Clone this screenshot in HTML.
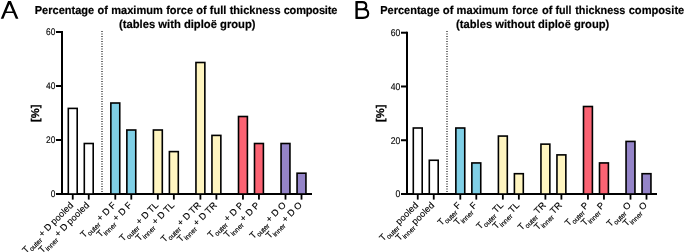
<!DOCTYPE html>
<html><head><meta charset="utf-8"><style>
html,body{margin:0;padding:0;background:#fff;}
svg{display:block;will-change:transform;}
text{font-family:"Liberation Sans",sans-serif;fill:#000;text-rendering:geometricPrecision;}
.tt{font-size:11.5px;font-kerning:none;font-weight:bold;stroke:#000;stroke-width:0.2px;}
.tk{font-size:9.5px;fill:#000;stroke:#000;stroke-width:0.12px;}
.lb{font-size:9.2px;stroke:#000;stroke-width:0.15px;}
.sb{font-size:6.8px;}
.yl{font-size:11.2px;font-weight:bold;stroke:#000;stroke-width:0.3px;}
</style></head><body>
<svg width="685" height="252" viewBox="0 0 685 252">
<path fill-rule="evenodd" d="M8.1,1 L10.9,1 L18.4,18.8 L15.8,18.8 L13.34,12.95 L5.80,12.95 L3.4,18.8 L0.8,18.8 Z M9.52,3.88 L12.68,11.4 L6.43,11.4 Z" fill="#000"/>
<rect x="355.4" y="1.1" width="2.4" height="17.8" fill="#000"/><path d="M356.5,2.15 H362.4 C365.5,2.15 366.3,4.1 366.3,5.8 C366.3,7.7 365.1,9.25 362.4,9.25 H356.5 M362.4,9.25 H363.0 C366.8,9.25 368.2,11.6 368.2,13.6 C368.2,16.2 366.3,17.85 363.0,17.85 H356.5" fill="none" stroke="#000" stroke-width="2.1"/>
<rect x="61" y="31.00" width="2" height="164.00" fill="#000"/>
<rect x="56" y="31.00" width="6" height="2" fill="#000"/>
<rect x="56" y="85.00" width="6" height="2" fill="#000"/>
<rect x="56" y="139.00" width="6" height="2" fill="#000"/>
<rect x="56" y="193" width="256" height="2" fill="#000"/>
<text transform="translate(55.4,35.35) scale(0.88,1)" text-anchor="end" class="tk" style="font-size:9.5px">60</text>
<text transform="translate(55.4,89.35) scale(0.88,1)" text-anchor="end" class="tk" style="font-size:9.5px">40</text>
<text transform="translate(55.4,143.35) scale(0.88,1)" text-anchor="end" class="tk" style="font-size:9.5px">20</text>
<text transform="translate(55.4,197.35) scale(0.88,1)" text-anchor="end" class="tk" style="font-size:9.5px">0</text>
<line x1="102" y1="31" x2="102" y2="193" stroke="#333" stroke-width="1.4" stroke-dasharray="1.1 1.4"/>
<rect x="68.30" y="108.40" width="8.90" height="85.60" fill="#ffffff" stroke="#000" stroke-width="1.6"/>
<rect x="71.85" y="195" width="1.8" height="4.6" fill="#000"/>
<text transform="translate(73.85,205.80) rotate(-45)" text-anchor="end" class="lb">T<tspan class="sb" dy="2.8">outer </tspan><tspan dy="-2.8">+ D pooled</tspan></text>
<rect x="84.30" y="143.50" width="8.90" height="50.50" fill="#ffffff" stroke="#000" stroke-width="1.6"/>
<rect x="87.85" y="195" width="1.8" height="4.6" fill="#000"/>
<text transform="translate(89.85,205.80) rotate(-45)" text-anchor="end" class="lb">T<tspan class="sb" dy="2.8">inner </tspan><tspan dy="-2.8">+ D pooled</tspan></text>
<rect x="110.85" y="103.00" width="8.90" height="91.00" fill="#7fcfe6" stroke="#000" stroke-width="1.6"/>
<rect x="114.40" y="195" width="1.8" height="4.6" fill="#000"/>
<text transform="translate(116.40,205.80) rotate(-45)" text-anchor="end" class="lb">T<tspan class="sb" dy="2.8">outer </tspan><tspan dy="-2.8">+ D F</tspan></text>
<rect x="126.85" y="130.00" width="8.90" height="64.00" fill="#7fcfe6" stroke="#000" stroke-width="1.6"/>
<rect x="130.40" y="195" width="1.8" height="4.6" fill="#000"/>
<text transform="translate(132.40,205.80) rotate(-45)" text-anchor="end" class="lb">T<tspan class="sb" dy="2.8">inner </tspan><tspan dy="-2.8">+ D F</tspan></text>
<rect x="153.40" y="130.00" width="8.90" height="64.00" fill="#fff5c0" stroke="#000" stroke-width="1.6"/>
<rect x="156.95" y="195" width="1.8" height="4.6" fill="#000"/>
<text transform="translate(158.95,205.80) rotate(-45)" text-anchor="end" class="lb">T<tspan class="sb" dy="2.8">outer </tspan><tspan dy="-2.8">+ D TL</tspan></text>
<rect x="169.40" y="151.60" width="8.90" height="42.40" fill="#fff5c0" stroke="#000" stroke-width="1.6"/>
<rect x="172.95" y="195" width="1.8" height="4.6" fill="#000"/>
<text transform="translate(174.95,205.80) rotate(-45)" text-anchor="end" class="lb">T<tspan class="sb" dy="2.8">inner </tspan><tspan dy="-2.8">+ D TL</tspan></text>
<rect x="195.95" y="62.50" width="8.90" height="131.50" fill="#fff5c0" stroke="#000" stroke-width="1.6"/>
<rect x="199.50" y="195" width="1.8" height="4.6" fill="#000"/>
<text transform="translate(201.50,205.80) rotate(-45)" text-anchor="end" class="lb">T<tspan class="sb" dy="2.8">outer </tspan><tspan dy="-2.8">+ D TR</tspan></text>
<rect x="211.95" y="135.40" width="8.90" height="58.60" fill="#fff5c0" stroke="#000" stroke-width="1.6"/>
<rect x="215.50" y="195" width="1.8" height="4.6" fill="#000"/>
<text transform="translate(217.50,205.80) rotate(-45)" text-anchor="end" class="lb">T<tspan class="sb" dy="2.8">inner </tspan><tspan dy="-2.8">+ D TR</tspan></text>
<rect x="238.50" y="116.50" width="8.90" height="77.50" fill="#fb6373" stroke="#000" stroke-width="1.6"/>
<rect x="242.05" y="195" width="1.8" height="4.6" fill="#000"/>
<text transform="translate(244.05,205.80) rotate(-45)" text-anchor="end" class="lb">T<tspan class="sb" dy="2.8">outer </tspan><tspan dy="-2.8">+ D P</tspan></text>
<rect x="254.50" y="143.50" width="8.90" height="50.50" fill="#fb6373" stroke="#000" stroke-width="1.6"/>
<rect x="258.05" y="195" width="1.8" height="4.6" fill="#000"/>
<text transform="translate(260.05,205.80) rotate(-45)" text-anchor="end" class="lb">T<tspan class="sb" dy="2.8">inner </tspan><tspan dy="-2.8">+ D P</tspan></text>
<rect x="281.05" y="143.50" width="8.90" height="50.50" fill="#9484c8" stroke="#000" stroke-width="1.6"/>
<rect x="284.60" y="195" width="1.8" height="4.6" fill="#000"/>
<text transform="translate(286.60,205.80) rotate(-45)" text-anchor="end" class="lb">T<tspan class="sb" dy="2.8">outer </tspan><tspan dy="-2.8">+ D O</tspan></text>
<rect x="297.05" y="173.20" width="8.90" height="20.80" fill="#9484c8" stroke="#000" stroke-width="1.6"/>
<rect x="300.60" y="195" width="1.8" height="4.6" fill="#000"/>
<text transform="translate(302.60,205.80) rotate(-45)" text-anchor="end" class="lb">T<tspan class="sb" dy="2.8">inner </tspan><tspan dy="-2.8">+ D O</tspan></text>
<text transform="translate(38.8,113.2) rotate(-90)" text-anchor="middle" class="yl">[%]</text>
<text transform="translate(34.76,14.0) scale(0.9594,1)" class="tt"><tspan x="0.00">Percentage</tspan><tspan x="65.40">of</tspan><tspan x="79.75">maximum</tspan><tspan x="136.95">force</tspan><tspan x="168.38">of</tspan><tspan x="182.52">full</tspan><tspan x="203.17">thickness</tspan><tspan x="259.42" style="letter-spacing:-0.19px">composite</tspan></text>
<text transform="translate(187.3,27.6) scale(0.9757,1)" text-anchor="middle" class="tt">(tables with diploë group)</text>
<rect x="406" y="31.72" width="2" height="163.28" fill="#000"/>
<rect x="401" y="31.72" width="6" height="2" fill="#000"/>
<rect x="401" y="85.48" width="6" height="2" fill="#000"/>
<rect x="401" y="139.24" width="6" height="2" fill="#000"/>
<rect x="401" y="193" width="256" height="2" fill="#000"/>
<text transform="translate(400.4,36.07) scale(0.88,1)" text-anchor="end" class="tk" style="font-size:9.8px">60</text>
<text transform="translate(400.4,89.83) scale(0.88,1)" text-anchor="end" class="tk" style="font-size:9.8px">40</text>
<text transform="translate(400.4,143.59) scale(0.88,1)" text-anchor="end" class="tk" style="font-size:9.8px">20</text>
<text transform="translate(400.4,197.35) scale(0.88,1)" text-anchor="end" class="tk" style="font-size:9.8px">0</text>
<line x1="447" y1="31" x2="447" y2="193" stroke="#333" stroke-width="1.4" stroke-dasharray="1.1 1.4"/>
<rect x="413.30" y="128.00" width="8.90" height="66.00" fill="#ffffff" stroke="#000" stroke-width="1.6"/>
<rect x="416.85" y="195" width="1.8" height="4.6" fill="#000"/>
<text transform="translate(418.85,205.80) rotate(-45)" text-anchor="end" class="lb">T<tspan class="sb" dy="2.8">outer </tspan><tspan dy="-2.8">pooled</tspan></text>
<rect x="429.30" y="160.26" width="8.90" height="33.74" fill="#ffffff" stroke="#000" stroke-width="1.6"/>
<rect x="432.85" y="195" width="1.8" height="4.6" fill="#000"/>
<text transform="translate(434.85,205.80) rotate(-45)" text-anchor="end" class="lb">T<tspan class="sb" dy="2.8">inner </tspan><tspan dy="-2.8">pooled</tspan></text>
<rect x="455.85" y="128.00" width="8.90" height="66.00" fill="#7fcfe6" stroke="#000" stroke-width="1.6"/>
<rect x="459.40" y="195" width="1.8" height="4.6" fill="#000"/>
<text transform="translate(461.40,205.80) rotate(-45)" text-anchor="end" class="lb">T<tspan class="sb" dy="2.8">outer </tspan><tspan dy="-2.8">F</tspan></text>
<rect x="471.85" y="162.94" width="8.90" height="31.06" fill="#7fcfe6" stroke="#000" stroke-width="1.6"/>
<rect x="475.40" y="195" width="1.8" height="4.6" fill="#000"/>
<text transform="translate(477.40,205.80) rotate(-45)" text-anchor="end" class="lb">T<tspan class="sb" dy="2.8">inner </tspan><tspan dy="-2.8">F</tspan></text>
<rect x="498.40" y="136.06" width="8.90" height="57.94" fill="#fff5c0" stroke="#000" stroke-width="1.6"/>
<rect x="501.95" y="195" width="1.8" height="4.6" fill="#000"/>
<text transform="translate(503.95,205.80) rotate(-45)" text-anchor="end" class="lb">T<tspan class="sb" dy="2.8">outer </tspan><tspan dy="-2.8">TL</tspan></text>
<rect x="514.40" y="173.70" width="8.90" height="20.30" fill="#fff5c0" stroke="#000" stroke-width="1.6"/>
<rect x="517.95" y="195" width="1.8" height="4.6" fill="#000"/>
<text transform="translate(519.95,205.80) rotate(-45)" text-anchor="end" class="lb">T<tspan class="sb" dy="2.8">inner </tspan><tspan dy="-2.8">TL</tspan></text>
<rect x="540.95" y="144.13" width="8.90" height="49.87" fill="#fff5c0" stroke="#000" stroke-width="1.6"/>
<rect x="544.50" y="195" width="1.8" height="4.6" fill="#000"/>
<text transform="translate(546.50,205.80) rotate(-45)" text-anchor="end" class="lb">T<tspan class="sb" dy="2.8">outer </tspan><tspan dy="-2.8">TR</tspan></text>
<rect x="556.95" y="154.88" width="8.90" height="39.12" fill="#fff5c0" stroke="#000" stroke-width="1.6"/>
<rect x="560.50" y="195" width="1.8" height="4.6" fill="#000"/>
<text transform="translate(562.50,205.80) rotate(-45)" text-anchor="end" class="lb">T<tspan class="sb" dy="2.8">inner </tspan><tspan dy="-2.8">TR</tspan></text>
<rect x="583.50" y="106.50" width="8.90" height="87.50" fill="#fb6373" stroke="#000" stroke-width="1.6"/>
<rect x="587.05" y="195" width="1.8" height="4.6" fill="#000"/>
<text transform="translate(589.05,205.80) rotate(-45)" text-anchor="end" class="lb">T<tspan class="sb" dy="2.8">outer </tspan><tspan dy="-2.8">P</tspan></text>
<rect x="599.50" y="162.94" width="8.90" height="31.06" fill="#fb6373" stroke="#000" stroke-width="1.6"/>
<rect x="603.05" y="195" width="1.8" height="4.6" fill="#000"/>
<text transform="translate(605.05,205.80) rotate(-45)" text-anchor="end" class="lb">T<tspan class="sb" dy="2.8">inner </tspan><tspan dy="-2.8">P</tspan></text>
<rect x="626.05" y="141.44" width="8.90" height="52.56" fill="#9484c8" stroke="#000" stroke-width="1.6"/>
<rect x="629.60" y="195" width="1.8" height="4.6" fill="#000"/>
<text transform="translate(631.60,205.80) rotate(-45)" text-anchor="end" class="lb">T<tspan class="sb" dy="2.8">outer </tspan><tspan dy="-2.8">O</tspan></text>
<rect x="642.05" y="173.70" width="8.90" height="20.30" fill="#9484c8" stroke="#000" stroke-width="1.6"/>
<rect x="645.60" y="195" width="1.8" height="4.6" fill="#000"/>
<text transform="translate(647.60,205.80) rotate(-45)" text-anchor="end" class="lb">T<tspan class="sb" dy="2.8">inner </tspan><tspan dy="-2.8">O</tspan></text>
<text transform="translate(383.8,113.2) rotate(-90)" text-anchor="middle" class="yl">[%]</text>
<text transform="translate(380.16,14.0) scale(0.9583,1)" class="tt">Percentage</text>
<text transform="translate(442.86,14.0) scale(0.9789,1)" class="tt">of</text>
<text transform="translate(456.56,14.0) scale(0.9672,1)" class="tt">maximum</text>
<text transform="translate(512.32,14.0) scale(0.9190,1)" class="tt">force</text>
<text transform="translate(542.07,14.0) scale(0.9597,1)" class="tt">of</text>
<text transform="translate(555.41,14.0) scale(0.9304,1)" class="tt">full</text>
<text transform="translate(575.17,14.0) scale(0.9439,1)" class="tt">thickness</text>
<text transform="translate(628.66,14.0) scale(0.9670,1)" class="tt">composite</text>
<text transform="translate(532.7,27.6) scale(0.9709,1)" text-anchor="middle" class="tt">(tables without diploë group)</text>
</svg>
</body></html>
